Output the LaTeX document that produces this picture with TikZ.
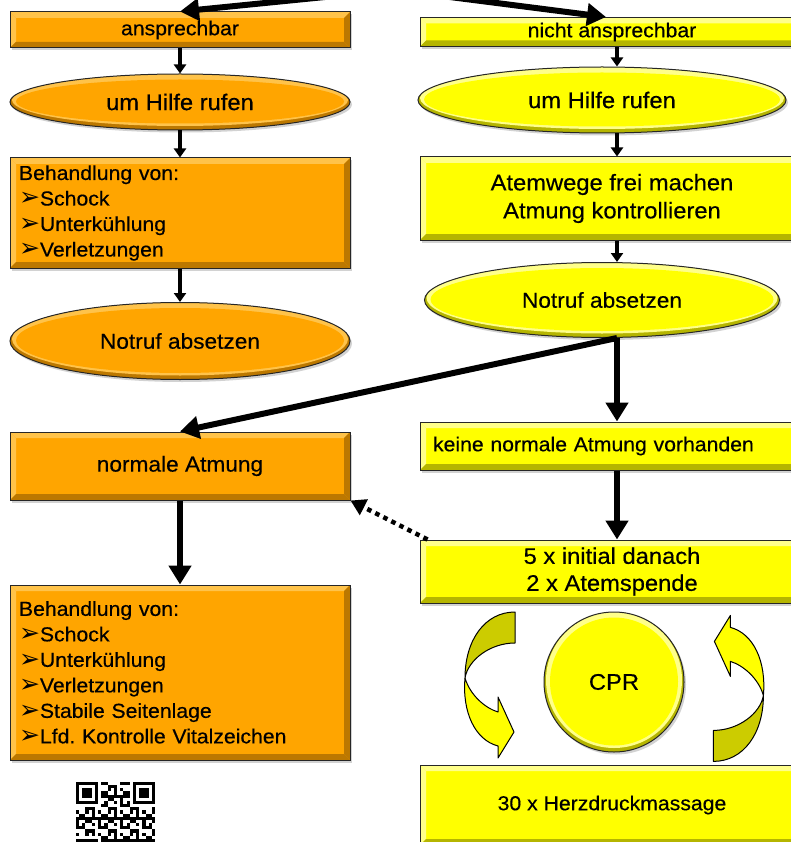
\documentclass[tikz,border=0pt]{standalone}
\usepackage{fontspec}
\setmainfont{Liberation Sans}[FakeStretch=1.05,FakeBold=0.4]
\newfontfamily\djv{DejaVu Sans}
\usetikzlibrary{arrows.meta,shapes.geometric,shadows,calc}
\frenchspacing
\definecolor{omain}{HTML}{FFA500}
\definecolor{olight}{HTML}{FFC34A}
\definecolor{odark}{HTML}{BC7800}
\definecolor{ymain}{HTML}{FFFF00}
\definecolor{ylight}{HTML}{FFFF8A}
\definecolor{ydark}{HTML}{B5B500}
\definecolor{yolive}{HTML}{CCCC00}
\newcommand\szS{\fontsize{20.2}{25.5}\selectfont}
\newcommand\szM{\fontsize{22.6}{28}\selectfont}
\newcommand\szN{\fontsize{21.6}{28}\selectfont}
\newcommand\bul{{\djv\fontsize{25}{25}\selectfont\raisebox{-0.5pt}{➢}}}
\tikzset{
  bevel/.style 2 args={path picture={
    \path (path picture bounding box.north west) coordinate (pNW)
          (path picture bounding box.north east) coordinate (pNE)
          (path picture bounding box.south west) coordinate (pSW)
          (path picture bounding box.south east) coordinate (pSE);
    \fill[#1] (pNW) -- (pNE) -- ([shift={(-6pt,-6pt)}]pNE) -- ([shift={(6pt,-6pt)}]pNW) -- cycle;
    \fill[#1] (pNW) -- ([shift={(6pt,-6pt)}]pNW) -- ([shift={(6pt,6pt)}]pSW) -- (pSW) -- cycle;
    \fill[#2] (pSW) -- (pSE) -- ([shift={(-6pt,6pt)}]pSE) -- ([shift={(6pt,6pt)}]pSW) -- cycle;
    \fill[#2] (pNE) -- (pSE) -- ([shift={(-6pt,6pt)}]pSE) -- ([shift={(-6pt,-6pt)}]pNE) -- cycle;
  }},
  shad/.style={drop shadow={shadow xshift=2pt, shadow yshift=-2.5pt, opacity=0.35}},
  boxbase/.style={rectangle, draw=black!85, line width=1pt, inner sep=0pt, shad},
  obox/.style={boxbase, fill=omain, bevel={olight}{odark}},
  ybox/.style={boxbase, fill=ymain, bevel={ylight}{ydark}},
  ovalbase/.style n args={3}{ellipse, draw=black!85, line width=1pt, inner sep=0pt, fill=#3, shad,
    path picture={
      \fill[#2] let \p1=(path picture bounding box.south west), \p2=(path picture bounding box.north east) in
        ($(\p1)!0.5!(\p2)+(0pt,2pt)$) ellipse [x radius={(\x2-\x1)/2-2pt}, y radius={(\y2-\y1)/2-2pt}];
      \fill[#1] let \p1=(path picture bounding box.south west), \p2=(path picture bounding box.north east) in
        ($(\p1)!0.5!(\p2)+(0pt,0.5pt)$) ellipse [x radius={(\x2-\x1)/2-6pt}, y radius={(\y2-\y1)/2-6pt}];
    }},
  oell/.style={ovalbase={omain}{olight}{odark}},
  yell/.style={ovalbase={ymain}{ylight}{ydark}},
  sarrow/.style={line width=4pt, -{Triangle[length=9pt,width=12pt]}},
  barrow/.style={line width=6pt, -{Triangle[length=19pt,width=22pt]}},
  darrow/.style={line width=4.5pt, dash pattern=on 4.5pt off 4.5pt, -{Triangle[length=15pt,width=17pt]}},
  curv/.style={draw=black, line width=1pt, line join=round},
}
\begin{document}
\begin{tikzpicture}[x=1pt,y=-1pt]
\useasboundingbox (0,0) rectangle (791,842);
\clip (0,0) rectangle (791,842);
\fill[white] (0,0) rectangle (791,842);

% left column
\node[obox, minimum width=340pt, minimum height=36pt, font=\szS] (ansp) at (180,30) {ansprechbar};
\node[oell, minimum width=340pt, minimum height=56pt, font=\szM] (hilfeL) at (180,102) {um Hilfe rufen};
\node[obox, minimum width=340pt, minimum height=110pt, font=\szS, text width=322pt, align=left] (behA) at (180,213)
  {Behandlung von:\\\bul Schock\\\bul Unterkühlung\\\bul Verletzungen};
\node[oell, minimum width=340pt, minimum height=77pt, font=\szN] (notrufL) at (180,341) {Notruf absetzen};
\node[obox, minimum width=340pt, minimum height=68pt, font=\szN] (normal) at (180,466) {normale Atmung};
\node[obox, minimum width=340pt, minimum height=175pt, font=\szS, text width=322pt, align=left] (behB) at (180,672.5)
  {Behandlung von:\\\bul Schock\\\bul Unterkühlung\\\bul Verletzungen\\\bul Stabile Seitenlage\\\bul Lfd. Kontrolle Vitalzeichen};

% right column
\node[ybox, minimum width=384pt, minimum height=29pt, font=\szS] (nansp) at (612,32) {nicht ansprechbar};
\node[yell, minimum width=368pt, minimum height=66pt, font=\szM] (hilfeR) at (602,100) {um Hilfe rufen};
\node[ybox, minimum width=384pt, minimum height=83pt, font=\szM, align=center] (atem) at (612,198.5)
  {Atemwege frei machen\\Atmung kontrollieren};
\node[yell, minimum width=355pt, minimum height=75pt, font=\szN] (notrufR) at (602,300) {Notruf absetzen};
\node[ybox, minimum width=384pt, minimum height=48pt, font=\szS, text width=358pt, align=left] (keine) at (612,446)
  {keine normale Atmung vorhanden};
\node[ybox, minimum width=384pt, minimum height=63pt, font=\fontsize{22.6}{27}\selectfont, align=center] (init) at (612,571.5)
  {5 x initial danach\\2 x Atemspende};
\node[ovalbase={ymain}{ylight}{ydark}, circle, minimum size=140pt, font=\szM] (cpr) at (614,682) {CPR};
\node[ybox, minimum width=384pt, minimum height=80pt, font=\szS] (herz) at (612,805) {30 x Herzdruckmassage};

% curved arrows around CPR
\filldraw[curv, fill=yolive] (515,612) .. controls (485,612) and (465,640) .. (465,678)
   .. controls (468,660) and (490,643) .. (515,643) -- cycle;
\filldraw[curv, fill=ymain] (465,678) .. controls (470,695) and (485,708) .. (498,712) -- (498,697) -- (514,732)
   -- (498,758) -- (498,746) .. controls (475,740) and (462,712) .. (465,678) -- cycle;
\begin{scope}[rotate around={180:(614.2,686.7)}]
\filldraw[curv, fill=yolive] (515,612) .. controls (485,612) and (465,640) .. (465,678)
   .. controls (468,660) and (490,643) .. (515,643) -- cycle;
\filldraw[curv, fill=ymain] (465,678) .. controls (470,695) and (485,708) .. (498,712) -- (498,697) -- (514,732)
   -- (498,758) -- (498,746) .. controls (475,740) and (462,712) .. (465,678) -- cycle;
\end{scope}

% connectors
\coordinate (rx) at (617,0);
\coordinate (src) at (395,-10);
\draw[barrow] (src) -- (ansp.north);
\draw[barrow] (src) -- ([xshift=-6pt]nansp.north);
\draw[sarrow] (ansp) -- (hilfeL);
\draw[sarrow] (hilfeL) -- (behA);
\draw[sarrow] (behA) -- (notrufL);
\draw[sarrow] (nansp.south -| rx) -- (hilfeR.north -| rx);
\draw[sarrow] (hilfeR.south -| rx) -- (atem.north -| rx);
\draw[sarrow] (atem.south -| rx) -- (notrufR.north -| rx);
\draw[barrow] (notrufR.south -| rx) -- (keine.north -| rx);
\draw[barrow] (notrufR.south -| rx) -- (normal.north);
\draw[barrow] (keine.south -| rx) -- (init.north -| rx);
\draw[barrow] (normal) -- (behB);
\draw[darrow] ([xshift=8pt]init.north west) -- (normal.south east);

% QR code
\foreach \fx/\fy in {76/782, 132.88/782, 76/838.88}{
  \fill[black] (\fx,\fy) rectangle ++(22.12,22.12);
  \fill[white] (\fx+3.16,\fy+3.16) rectangle ++(15.8,15.8);
  \fill[black] (\fx+6.32,\fy+6.32) rectangle ++(9.48,9.48);
}
\foreach \i in {0,...,24}{
  \foreach \j in {0,...,19}{
    \pgfmathtruncatemacro\qv{mod(\i*\i*7+\j*\j*3+\i*\j*5+\i+2*\j,7)}
    \pgfmathtruncatemacro\qf{((\i<8)&&(\j<8)) || ((\i>16)&&(\j<8)) || ((\i<8)&&(\j>16))}
    \ifnum\qf=0 \ifnum\qv<3 \fill[black] (76+\i*3.16,782+\j*3.16) rectangle ++(3.16,3.16); \fi\fi
  }
}
\end{tikzpicture}
\end{document}
